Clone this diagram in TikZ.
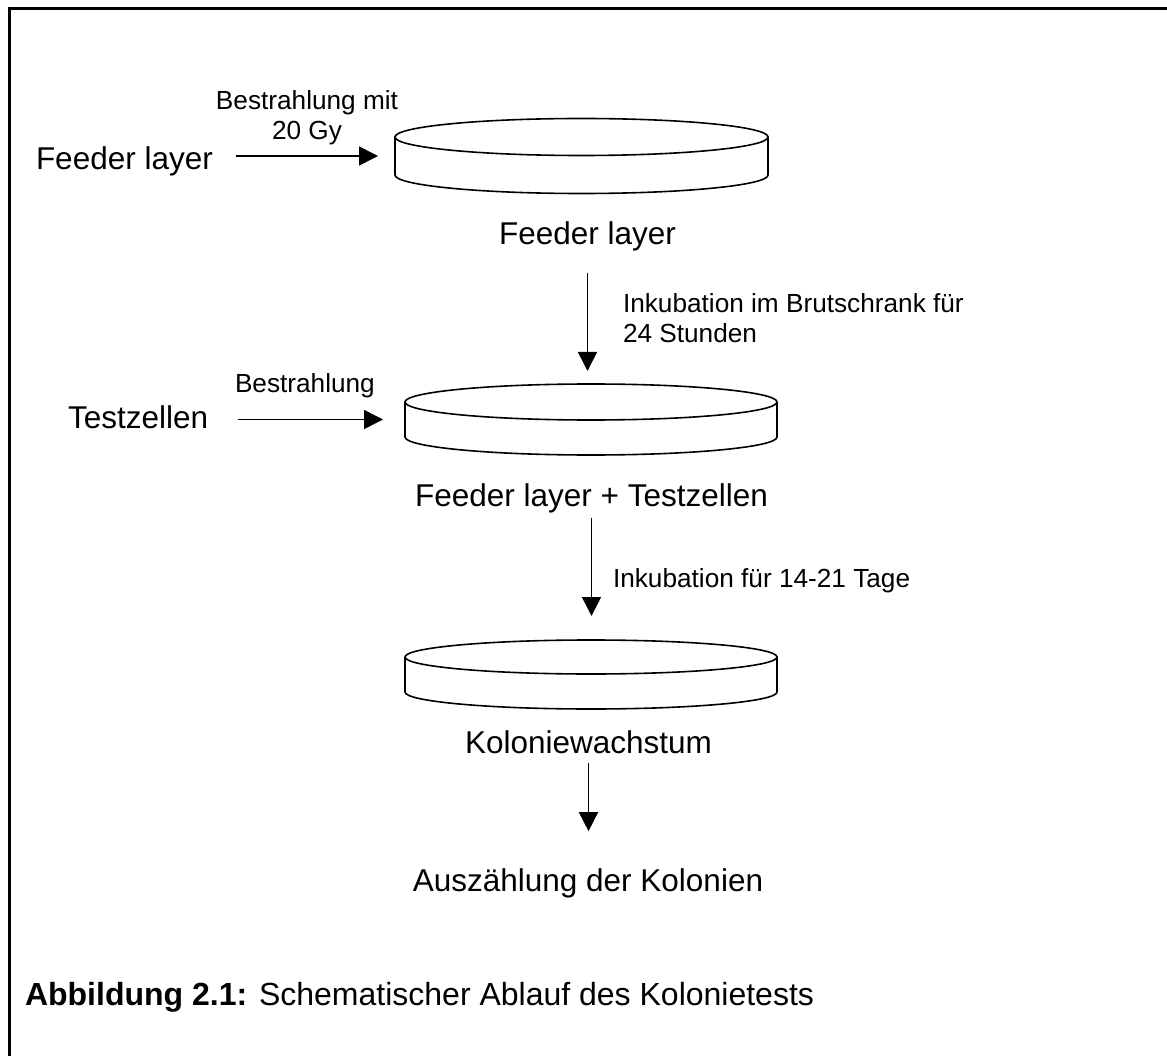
\documentclass[tikz,border=0pt]{standalone}
\usepackage{fontspec}
\setmainfont{Liberation Sans}
\usetikzlibrary{arrows.meta}
\newcommand{\petri}[6]{% name, cx, top cy, bottom cy, rx, ry
  \node[inner sep=0pt, outer sep=0pt, minimum width={2*#5*1pt}, minimum height={(#4-#3+2*#6)*1pt}, anchor=north] (#1) at (#2,#3-#6) {};
  \draw[dishline] (#2,#3) ellipse [x radius=#5pt, y radius=#6pt];
  \draw[dishline] (#2-#5,#3) -- (#2-#5,#4) arc[start angle=180, end angle=360, x radius=#5pt, y radius=#6pt] -- (#2+#5,#3);
}
\begin{document}
\begin{tikzpicture}[x=1pt,y=-1pt,
  lbl/.style={inner sep=0pt, outer sep=0pt, font=\fontsize{31.5}{36}\selectfont},
  sml/.style={inner sep=0pt, outer sep=0pt, font=\fontsize{26.2}{30.5}\selectfont},
  figcap/.style={inner sep=0pt, outer sep=0pt, font=\fontsize{32}{36}\selectfont},
  dishline/.style={line width=1.6pt},
  arr/.style={line width=1.6pt, -{Triangle[length=19pt,width=19pt]}},
  framelines/.style={line width=3pt}]
\useasboundingbox (0,0) rectangle (1167,1056);
\fill[white] (0,0) rectangle (1167,1056);
\draw[framelines] (9,1056) -- (9,9) -- (1167,9);

\node[lbl, anchor=base west] (lfeed) at (36,170) {Feeder layer};
\node[sml, anchor=base, align=center] (bm) at (307,140) {Bestrahlung mit\\20 Gy};
\petri{dish1}{581.5}{137}{175}{186.5}{18.5}
\node[lbl, anchor=base] (cap1) at (587.5,245) {Feeder layer};
\node[sml, anchor=base west, align=left] (ink1) at (623,343) {Inkubation im Brutschrank für\\24 Stunden};

\node[lbl, anchor=base west] (testz) at (68,428) {Testzellen};
\node[sml, anchor=base west] (bs) at (235,392) {Bestrahlung};
\petri{dish2}{591}{402}{437}{186}{18}
\node[lbl, anchor=base] (cap2) at (591.5,506) {Feeder layer + Testzellen};
\node[sml, anchor=base west] (ink2) at (613,587) {Inkubation für 14-21 Tage};

\petri{dish3}{591}{657}{692}{186}{17}
\node[lbl, anchor=base] (cap3) at (588.5,753) {Koloniewachstum};
\node[lbl, anchor=base] (cap4) at (588,891) {Auszählung der Kolonien};

\node[figcap, anchor=base west] (fig) at (25,1005) {\textbf{Abbildung 2.1:} Schematischer Ablauf des Kolonietests};

\draw[arr, shorten <=23pt, shorten >=17pt] (lfeed.east |- dish1.center) -- (dish1.west);
\draw[arr, shorten <=30pt, shorten >=22pt] (testz.east |- dish2.center) -- (dish2.west);
\draw[arr, shorten <=21pt, shorten >=13pt] (cap1.south) -- (cap1.south |- dish2.north);
\draw[arr, shorten <=5pt, shorten >=24pt] (cap2.south) -- (cap2.south |- dish3.north);
\draw[arr, shorten <=10pt, shorten >=37pt] (cap3.south) -- (cap3.south |- cap4.north);
\end{tikzpicture}
\end{document}
